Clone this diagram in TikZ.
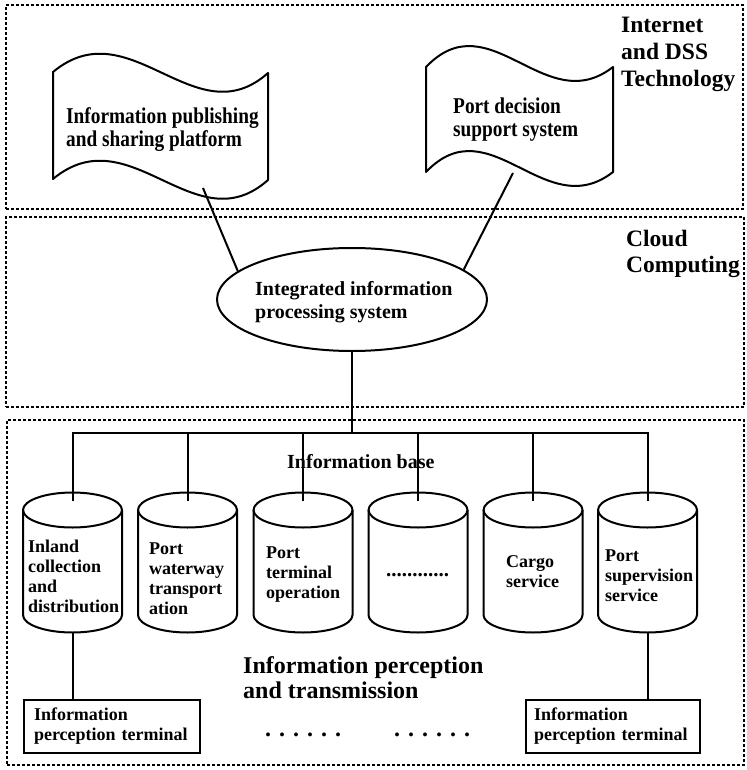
\documentclass[tikz,border=0pt]{standalone}
\usepackage{graphicx}
\usepackage{fontspec}
\setmainfont{Liberation Serif}
\usetikzlibrary{shapes.geometric}
\newcommand\flagfnt{\bfseries\fontsize{19.3}{20.5}\selectfont}
\newcommand\layfnt{\bfseries\fontsize{23.5}{27}\selectfont}
\newcommand\ellfnt{\bfseries\fontsize{20}{23}\selectfont}
\newcommand\basefnt{\bfseries\fontsize{20}{24}\selectfont}
\newcommand\bigfnt{\bfseries\fontsize{24}{25}\selectfont}
\newcommand\cylfnt{\bfseries\fontsize{18}{20}\selectfont}
\newcommand\boxfnt{\bfseries\fontsize{18}{20}\selectfont}
\newcommand\vstretch[2]{\scalebox{1}[#1]{\begin{tabular}[b]{@{}l@{}}#2\end{tabular}}}
\begin{document}
\begin{tikzpicture}[x=1pt,y=-1pt,
  layerbox/.style={draw, line width=1.8pt, dash pattern=on 3pt off 2pt, inner sep=0pt},
  conn/.style={draw, line width=2pt},
  shapeline/.style={draw, line width=2pt, line join=round},
  txt/.style={inner sep=0pt, anchor=base west, align=left},
  flagtxt/.style={inner sep=0pt, anchor=base west, font=\flagfnt},
  termbox/.style={draw, line width=2pt, minimum height=53pt, align=left, anchor=west, font=\boxfnt}]
\useasboundingbox (0,0) rectangle (746,770);
\fill[white] (0,0) rectangle (746,770);

% layers
\node[layerbox, minimum width=737pt, minimum height=204pt] (L1) at (374.5,107) {};
\node[layerbox, minimum width=738pt, minimum height=190pt] (L2) at (375,312) {};
\node[layerbox, minimum width=737pt, minimum height=345pt] (L3) at (375.5,592.5) {};

% (multi-line text nodes: base anchor = baseline of the last line)
\node[txt, font=\layfnt] (lab1) at (621,87) {Internet\\and DSS\\Technology};
\node[txt, font=\bfseries\fontsize{23.5}{26}\selectfont] (lab2) at (626,272) {Cloud\\Computing};

% flags
\draw[shapeline] (53,72) .. controls (130,8) and (195,138) .. (268,73) -- (268,180)
  .. controls (195,245) and (130,115) .. (53,179) -- cycle;
\node[flagtxt] (F1) at (66,147) {\vstretch{1.17}{Information publishing\\and sharing platform}};
\draw[shapeline] (426,67) .. controls (490,0) and (545,120) .. (613,67) -- (613,172)
  .. controls (545,225) and (490,105) .. (426,172) -- cycle;
\node[flagtxt] (F2) at (453,137) {\vstretch{1.17}{Port decision\\support system}};
\coordinate (f1b) at (203,188);
\coordinate (f2b) at (513,173);

% ellipse
\node[draw, ellipse, line width=2pt, minimum width=270pt, minimum height=103pt, inner sep=0pt] (ell) at (352,299.5) {};
\node[txt, font=\ellfnt] (ellt) at (255,318) {Integrated information\\processing system};
\draw[conn] (f1b) -- (ell.166);
\draw[conn] (f2b) -- (ell.15);

% cylinders
\foreach \i/\cx in {1/72.5,2/187.5,3/303,4/418,5/533,6/647.5} {
  \draw[shapeline] (\cx,510) ellipse[x radius=49.5, y radius=17.5];
  \draw[shapeline] (\cx-49.5,510) -- (\cx-49.5,615)
     arc[start angle=180, end angle=0, x radius=49.5, y radius=17.5] -- (\cx+49.5,510);
  \coordinate (top\i) at (\cx,501);
  \coordinate (bot\i) at (\cx,632.5);
  \coordinate (bus\i) at (\cx,433);
}
\coordinate (busm) at (352,433);

\node[txt, font=\basefnt] (ib) at (287,468) {Information base};

\draw[conn, line join=miter] (top1) -- (bus1) -- (bus6) -- (top6);
\foreach \i in {2,3,4,5} \draw[conn] (bus\i) -- (top\i);
\draw[conn] (ell.south) -- (busm);

\node[txt, font=\cylfnt] (t1) at (28,612) {Inland\\collection\\and\\distribution};
\node[txt, font=\cylfnt] (t2) at (149,614) {Port\\waterway\\transport\\ation};
\node[txt, font=\cylfnt] (t3) at (266,598) {Port\\terminal\\operation};
\node[txt, font=\bfseries\fontsize{21}{24}\selectfont] (t4) at (386,576) {............};
\node[txt, font=\cylfnt] (t5) at (506,587) {Cargo\\service};
\node[txt, font=\cylfnt] (t6) at (605,601) {Port\\supervision\\service};

\node[txt, font=\bigfnt] (pt) at (243,698) {Information perception\\and transmission};

% terminals
\node[termbox, text width=156pt, inner xsep=10pt] (box1) at (23,726.5) {Information\\perception terminal};
\node[termbox, text width=158pt, inner xsep=8pt] (box2) at (525,726.5) {Information\\perception terminal};
\draw[conn] (bot1) -- (bot1 |- box1.north);
\draw[conn] (bot6) -- (bot6 |- box2.north);

\node[txt, font=\bfseries\fontsize{24}{24}\selectfont] (dots1) at (265,736) {. . . . . .};
\node[txt, font=\bfseries\fontsize{24}{24}\selectfont] (dots2) at (394,736) {. . . . . .};
\end{tikzpicture}
\end{document}
